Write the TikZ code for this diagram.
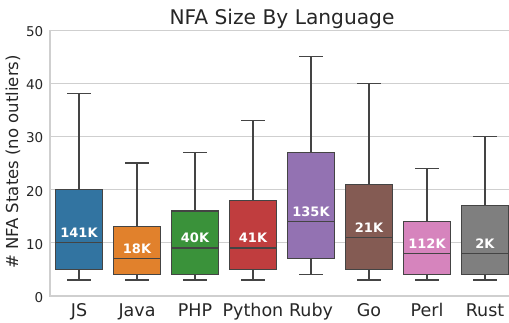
\documentclass[tikz,border=0pt]{standalone}
\usepackage{fontspec}
\setmainfont{DejaVu Sans}
\definecolor{cJS}{HTML}{3274A1}
\definecolor{cJava}{HTML}{E1812C}
\definecolor{cPHP}{HTML}{3A923A}
\definecolor{cPython}{HTML}{C03D3E}
\definecolor{cRuby}{HTML}{9372B2}
\definecolor{cGo}{HTML}{845B53}
\definecolor{cPerl}{HTML}{D684BD}
\definecolor{cRust}{HTML}{7F7F7F}
\definecolor{edgegray}{HTML}{444444}
\definecolor{gridgray}{HTML}{CFCFCF}
\definecolor{textgray}{HTML}{262626}
\begin{document}
\begin{tikzpicture}[x=1pt,y=1pt,
  gridline/.style={draw=gridgray, line width=0.9pt},
  spine/.style={draw=gridgray, line width=1.1pt},
  boxline/.style={draw=edgegray, line width=1.3pt},
  whisk/.style={draw=edgegray, line width=1.3pt},
  count/.style={text=white, font=\fontsize{13}{15}\selectfont\bfseries, anchor=base, inner sep=0pt},
  ticklab/.style={text=textgray, font=\fontsize{17.5}{20}\selectfont, anchor=base, inner sep=0pt},
  ylab/.style={text=textgray, font=\fontsize{13.5}{16}\selectfont, anchor=east, inner sep=0pt}]
\useasboundingbox (0,0) rectangle (509,322);
% title and axis label
\node[text=textgray, font=\fontsize{20.2}{24}\selectfont, anchor=base, inner sep=0pt] (title) at (282,297) {NFA Size By Language};
\node[text=textgray, font=\fontsize{16.5}{20}\selectfont, rotate=90, inner sep=0pt] (yaxis) at (13,160) {\# NFA States (no outliers)};
\begin{scope}[yshift=26pt, y=5.32pt]
  % horizontal grid and spines
  \foreach \v in {10,20,30,40,50} {
    \draw[gridline] (50,\v) -- (509,\v);
  }
  \foreach \v in {0,10,20,30,40,50} {
    \node[ylab] (y\v) at (43.5,\v) [yshift=-1.5pt] {\v};
  }
  \draw[spine] (50,50) -- (50,0) -- (509,0);
  % one box per language: index/name/low/q1/median/q3/high/count
  \foreach \i/\lang/\lo/\qa/\me/\qb/\hi/\cnt in {
      0/JS/3/5/10/20/38/141K,
      1/Java/3/4/7/13/25/18K,
      2/PHP/3/4/9/16/27/40K,
      3/Python/3/5/9/18/33/41K,
      4/Ruby/4/7/14/27/45/135K,
      5/Go/3/5/11/21/40/21K,
      6/Perl/3/4/8/14/24/112K,
      7/Rust/3/4/8/17/30/2K} {
    \pgfmathsetmacro\cx{79+58*\i}
    \draw[whisk] (\cx,\qb) -- (\cx,\hi);
    \draw[whisk] ({\cx-11.6},\hi) -- ({\cx+11.6},\hi);
    \draw[whisk] (\cx,\qa) -- (\cx,\lo);
    \draw[whisk] ({\cx-11.6},\lo) -- ({\cx+11.6},\lo);
    \filldraw[boxline, fill=c\lang] ({\cx-23.2},\qa) rectangle ({\cx+23.2},\qb);
    \draw[boxline] ({\cx-23.2},\me) -- ({\cx+23.2},\me);
    \node[count] (n\lang) at (\cx,{\me+1}) {\cnt};
    \node[ticklab] (t\lang) at (\cx,-3.89) {\lang};
  }
\end{scope}
\end{tikzpicture}
\end{document}
